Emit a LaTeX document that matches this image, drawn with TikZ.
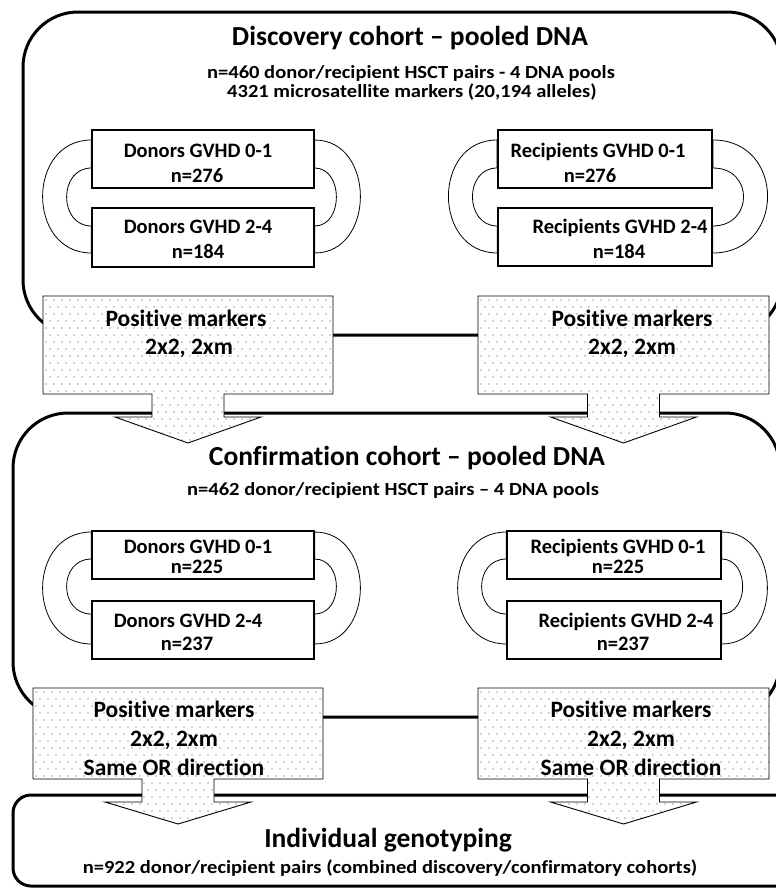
\documentclass[tikz,border=0pt]{standalone}
\usepackage{fontspec}
\setmainfont{Carlito}[Ligatures=NoCommon]
\newfontfamily\subfam{Carlito}[FakeStretch=1.11,Ligatures=NoCommon]
\usetikzlibrary{calc}
\newcommand\ftitle{\fontsize{27.5}{32}\selectfont\bfseries}
\newcommand\fsub{\subfam\fontsize{18.5}{22}\selectfont\bfseries}
\newcommand\fgrp{\fontsize{20.5}{24}\selectfont\bfseries}
\newcommand\fcall{\fontsize{23.5}{28}\selectfont\bfseries}
\newcommand\callout[5]{%
 \pgfmathsetmacro\cx{(#1+#2)/2}%
 \pgfmathsetmacro\hb{#4+23}%
 \pgfmathsetmacro\tp{#4+#5}%
 \fill[white] (#1,#3) -- (#2,#3) -- (#2,#4) -- (\cx+36,#4) -- (\cx+36,\hb) -- (\cx+73,\hb) -- (\cx,\tp) -- (\cx-73,\hb) -- (\cx-36,\hb) -- (\cx-36,#4) -- (#1,#4) -- cycle;
 \begin{scope}
  \clip (#1,#3) -- (#2,#3) -- (#2,#4) -- (\cx+36,#4) -- (\cx+36,\hb) -- (\cx+73,\hb) -- (\cx,\tp) -- (\cx-73,\hb) -- (\cx-36,\hb) -- (\cx-36,#4) -- (#1,#4) -- cycle;
  \foreach \r in {0,...,22}{\foreach \c in {0,...,38}{%
   \fill[dotc] ({#1+3+8*\c+4*mod(\r,2)},{#3+4+7*\r}) circle[radius=0.7];}}
 \end{scope}
 \draw[callline] (#1,#3) -- (#2,#3) -- (#2,#4) -- (\cx+36,#4) -- (\cx+36,\hb) -- (\cx+73,\hb) -- (\cx,\tp) -- (\cx-73,\hb) -- (\cx-36,\hb) -- (\cx-36,#4) -- (#1,#4) -- cycle;
}
\begin{document}
\begin{tikzpicture}[x=1pt,y=-1pt,
  cohort/.style={line width=3pt, rounded corners=#1},
  cohort/.default=55,
  grpbox/.style={draw, line width=1.3pt, minimum width=#1, inner sep=0pt},
  band/.style={line width=0.8pt},
  callline/.style={line width=0.9pt, line join=miter},
  dotc/.style={fill=black!75},
  txt/.style={anchor=base, inner sep=0pt, font=\fgrp},
  ctxt/.style={anchor=base, inner sep=0pt, font=\fcall},
  ttl/.style={anchor=base, inner sep=0pt, font=\ftitle},
  sub/.style={anchor=base, inner sep=0pt, font=\fsub}]
\useasboundingbox (0,0) rectangle (776,889);
\clip (0,0) rectangle (776,889);
\fill[white] (0,0) rectangle (776,889);

% cohort frames
\draw[cohort] (23,12) rectangle (782,335);
\draw[cohort] (13,413) rectangle (780,717);
\draw[cohort=18] (13,795) rectangle (810,886);

% ---------- discovery ----------
\node[grpbox=222pt, minimum height=58pt] (dd1) at (203,159) {};
\node[grpbox=222pt, minimum height=59pt] (dd2) at (203,237.5) {};
\node[grpbox=214pt, minimum height=58pt, line width=2pt] (dr1) at (605,159) {};
\node[grpbox=214pt, minimum height=58pt] (dr2) at (605,237) {};

\draw[band] (dd1.west |- 0,140) .. controls +(-65,0) and +(-65,0) .. (dd2.west |- 0,253) -- (dd2.west |- 0,226) .. controls +(-33,0) and +(-33,0) .. (dd1.west |- 0,168) -- cycle;
\draw[band] (dd1.east |- 0,140) .. controls +(61,0) and +(61,0) .. (dd2.east |- 0,253) -- (dd2.east |- 0,226) .. controls +(29,0) and +(29,0) .. (dd1.east |- 0,168) -- cycle;
\draw[band] (dr1.west |- 0,140) .. controls +(-65,0) and +(-65,0) .. (dr2.west |- 0,253) -- (dr2.west |- 0,226) .. controls +(-33,0) and +(-33,0) .. (dr1.west |- 0,168) -- cycle;
\draw[band] (dr1.east |- 0,140) .. controls +(73,0) and +(73,0) .. (dr2.east |- 0,253) -- (dr2.east |- 0,226) .. controls +(41,0) and +(41,0) .. (dr1.east |- 0,168) -- cycle;

% ---------- confirmation ----------
\node[grpbox=222pt, minimum height=48pt] (cd1) at (203,555) {};
\node[grpbox=222pt, minimum height=58pt] (cd2) at (203,630) {};
\node[grpbox=214pt, minimum height=48pt] (cr1) at (614,555) {};
\node[grpbox=214pt, minimum height=58pt] (cr2) at (614,630) {};

\draw[band] (cd1.west |- 0,532) .. controls +(-65,0) and +(-65,0) .. (cd2.west |- 0,644) -- (cd2.west |- 0,614) .. controls +(-33,0) and +(-33,0) .. (cd1.west |- 0,559) -- cycle;
\draw[band] (cd1.east |- 0,532) .. controls +(61,0) and +(61,0) .. (cd2.east |- 0,644) -- (cd2.east |- 0,614) .. controls +(29,0) and +(29,0) .. (cd1.east |- 0,559) -- cycle;
\draw[band] (cr1.west |- 0,532) .. controls +(-65,0) and +(-65,0) .. (cr2.west |- 0,644) -- (cr2.west |- 0,614) .. controls +(-33,0) and +(-33,0) .. (cr1.west |- 0,559) -- cycle;
\draw[band] (cr1.east |- 0,532) .. controls +(61,0) and +(61,0) .. (cr2.east |- 0,644) -- (cr2.east |- 0,614) .. controls +(28,0) and +(28,0) .. (cr1.east |- 0,559) -- cycle;

% ---------- callouts ----------
\callout{43}{333}{296}{394}{49}
\callout{478}{769}{296}{394}{49}
\callout{33}{323}{688}{779}{45}
\callout{478}{769}{688}{779}{45}

% ---------- texts ----------
\node[ttl] (t1) at (410,45) {Discovery cohort – pooled DNA};
\node[sub] (t1a) at (411,78) {n=460 donor/recipient HSCT pairs - 4 DNA pools};
\node[sub] (t1b) at (412,97) {4321 microsatellite markers (20,194 alleles)};

\node[txt] (x1) at (198,157) {Donors GVHD 0-1};
\node[txt] (x2) at (197,182) {n=276};
\node[txt] (x3) at (198,233) {Donors GVHD 2-4};
\node[txt] (x4) at (198,258) {n=184};
\node[txt] (x5) at (598,157) {Recipients GVHD 0-1};
\node[txt] (x6) at (590,182) {n=276};
\node[txt] (x7) at (620,233) {Recipients GVHD 2-4};
\node[txt] (x8) at (619,258) {n=184};

\node[ctxt] (p1) at (186,326) {Positive markers};
\node[ctxt] (p2) at (189,354) {2x2, 2xm};
\node[ctxt] (p3) at (632,326) {Positive markers};
\node[ctxt] (p4) at (632,354) {2x2, 2xm};

\node[ttl] (t2) at (407,465) {Confirmation cohort – pooled DNA};
\node[sub] (t2a) at (393,495) {n=462 donor/recipient HSCT pairs – 4 DNA pools};

\node[txt] (y1) at (198,553) {Donors GVHD 0-1};
\node[txt] (y2) at (197,573) {n=225};
\node[txt] (y3) at (188,627) {Donors GVHD 2-4};
\node[txt] (y4) at (187,650) {n=237};
\node[txt] (y5) at (618,553) {Recipients GVHD 0-1};
\node[txt] (y6) at (618,573) {n=225};
\node[txt] (y7) at (626,627) {Recipients GVHD 2-4};
\node[txt] (y8) at (623,650) {n=237};

\node[ctxt] (q1) at (174,717) {Positive markers};
\node[ctxt] (q2) at (174,746) {2x2, 2xm};
\node[ctxt] (q3) at (174,775) {Same OR direction};
\node[ctxt] (q4) at (631,717) {Positive markers};
\node[ctxt] (q5) at (631,746) {2x2, 2xm};
\node[ctxt] (q6) at (631,775) {Same OR direction};

\node[ttl] (t3) at (388,847) {Individual genotyping};
\node[sub] (t3a) at (390,873) {n=922 donor/recipient pairs (combined discovery/confirmatory cohorts)};
\end{tikzpicture}
\end{document}
